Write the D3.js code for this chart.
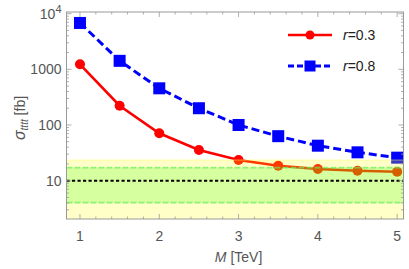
<!DOCTYPE html>
<html><head><meta charset="utf-8">
<script src="https://cdn.jsdelivr.net/npm/d3@7"></script>
<style>
body{margin:0;background:#fff;}
svg{display:block;font-family:"Liberation Sans",Arial,sans-serif;}
</style></head>
<body><svg id="c" width="409" height="269"></svg>
<script>
const masses = [1, 1.5, 2, 2.5, 3, 3.5, 4, 4.5, 5];
const sigmaR03 = [1230, 222, 71, 35.5, 23.5, 18.6, 16.2, 15.1, 14.5];
const sigmaR08 = [6800, 1420, 456, 200, 100, 63, 42.5, 32.3, 25.9];
const seriesNames = ["r=0.3", "r=0.8"];
const xTicks = [1, 2, 3, 4, 5];
const yTicks = [10, 100, 1000, 10000];
const yTickLabels = ["10", "100", "1000", "10^4"];
const limitCentral = 10;
const band1 = [4.03, 17.1];
const band2 = [1, 23.5];

const svg = d3.select("#c");
const L = 66.5, R = 403.5, T = 12, B = 219;
const x = d3.scaleLinear().domain([0.83, 5.08]).range([L, R]);
const y = d3.scaleLog().domain([2.05, 10700]).range([B, T]);
const frameCol = "#9a9a9a";
const textCol = "#555";

const plot = svg.append("g");
plot.append("defs").append("clipPath").attr("id","clip")
  .append("rect").attr("x",L).attr("y",T).attr("width",R-L).attr("height",B-T);
const g = plot.append("g").attr("clip-path","url(#clip)");

const line = d3.line().x((d,i)=>x(masses[i])).y(d=>y(d));

// red series
g.append("path").datum(sigmaR03).attr("d", line)
  .attr("fill","none").attr("stroke","#ff0000").attr("stroke-width",2.6);
g.selectAll("circle.r").data(sigmaR03).enter().append("circle")
  .attr("cx",(d,i)=>x(masses[i])).attr("cy",d=>y(d)).attr("r",5).attr("fill","#ff0000");
// blue series
g.append("path").datum(sigmaR08).attr("d", line)
  .attr("fill","none").attr("stroke","#0000ff").attr("stroke-width",3)
  .attr("stroke-dasharray","8,4");
g.selectAll("rect.b").data(sigmaR08).enter().append("rect")
  .attr("x",(d,i)=>x(masses[i])-6).attr("y",d=>y(d)-6).attr("width",12).attr("height",12)
  .attr("fill","#0000ff");

// bands on top (translucent)
g.append("rect").attr("x",L).attr("width",R-L)
  .attr("y",y(band2[1])).attr("height",y(band2[0])-y(band2[1]))
  .attr("fill","#ffff00").attr("fill-opacity",0.22);
g.append("line").attr("x1",L).attr("x2",R).attr("y1",y(band2[1])).attr("y2",y(band2[1]))
  .attr("stroke","#ffff66").attr("stroke-width",1.2).attr("stroke-opacity",0.5);
g.append("rect").attr("x",L).attr("width",R-L)
  .attr("y",y(band1[1])).attr("height",y(band1[0])-y(band1[1]))
  .attr("fill","#33ff00").attr("fill-opacity",0.2);
[band1[0], band1[1]].forEach(v=>{
  g.append("line").attr("x1",L).attr("x2",R).attr("y1",y(v)).attr("y2",y(v))
    .attr("stroke","#66ee55").attr("stroke-width",1.8).attr("stroke-opacity",0.7)
    .attr("stroke-dasharray","6,2");
});
g.append("line").attr("x1",L).attr("x2",R).attr("y1",y(limitCentral)).attr("y2",y(limitCentral))
  .attr("stroke","#000").attr("stroke-width",2).attr("stroke-dasharray","3.2,2.3");

// frame
plot.append("rect").attr("x",L).attr("y",T).attr("width",R-L).attr("height",B-T)
  .attr("fill","none").attr("stroke",frameCol).attr("stroke-width",1);

// ticks
const xMinorAll = [];
for (let v=0.8; v<=5.1; v+=0.2){ const r=+v.toFixed(2); if(r>0.83 && r<5.08 && Math.abs(r-Math.round(r))>0.01) xMinorAll.push(r);}
const tickG = plot.append("g").attr("stroke",frameCol).attr("stroke-width",0.8);
xTicks.forEach(v=>{
  tickG.append("line").attr("x1",x(v)).attr("x2",x(v)).attr("y1",B).attr("y2",B-5);
  tickG.append("line").attr("x1",x(v)).attr("x2",x(v)).attr("y1",T).attr("y2",T+5);
});
xMinorAll.forEach(v=>{
  tickG.append("line").attr("x1",x(v)).attr("x2",x(v)).attr("y1",B).attr("y2",B-2.5);
  tickG.append("line").attr("x1",x(v)).attr("x2",x(v)).attr("y1",T).attr("y2",T+2.5);
});
const yMinor = [];
[1,10,100,1000,10000].forEach(dec=>{ for(let k=2;k<=9;k++){ const v=dec*k; if(v>2.05 && v<10700) yMinor.push(v);} });
yTicks.forEach(v=>{
  tickG.append("line").attr("x1",L).attr("x2",L+5).attr("y1",y(v)).attr("y2",y(v));
  tickG.append("line").attr("x1",R).attr("x2",R-5).attr("y1",y(v)).attr("y2",y(v));
});
yMinor.forEach(v=>{
  tickG.append("line").attr("x1",L).attr("x2",L+2.5).attr("y1",y(v)).attr("y2",y(v));
  tickG.append("line").attr("x1",R).attr("x2",R-2.5).attr("y1",y(v)).attr("y2",y(v));
});

// tick labels
const lab = svg.append("g").attr("fill",textCol).attr("font-size",14);
xTicks.forEach(v=>{
  lab.append("text").attr("x",x(v)).attr("y",B+22).attr("text-anchor","middle").text(v);
});
yTicks.forEach((v,i)=>{
  const s = yTickLabels[i];
  if (s.includes("^")) {
    const [b,e] = s.split("^");
    const t = lab.append("text").attr("x",L-5).attr("y",y(v)+5).attr("text-anchor","end");
    t.append("tspan").text(b);
    t.append("tspan").attr("dy",-6).attr("font-size",11).text(e);
  } else {
    lab.append("text").attr("x",L-5).attr("y",y(v)+5).attr("text-anchor","end").text(s);
  }
});

// axis labels
const xl = lab.append("text").attr("x",x(3)).attr("y",262).attr("text-anchor","middle");
xl.append("tspan").attr("font-style","italic").text("M");
xl.append("tspan").text(" [TeV]");
const yl = lab.append("text").attr("transform","translate(25,118) rotate(-90)").attr("text-anchor","middle");
yl.append("tspan").attr("font-style","italic").attr("font-size",16).text("σ");
yl.append("tspan").attr("font-style","italic").attr("font-size",10).attr("dy",3).text("tttt");
yl.append("tspan").attr("dy",-3).text(" [fb]");

// legend
const lg = svg.append("g");
const legY = [35, 66];
const lx1 = 288, lx2 = 332;
lg.append("line").attr("x1",lx1).attr("x2",lx2).attr("y1",legY[0]).attr("y2",legY[0])
  .attr("stroke","#ff0000").attr("stroke-width",2.6);
lg.append("circle").attr("cx",(lx1+lx2)/2).attr("cy",legY[0]).attr("r",4.5).attr("fill","#ff0000");
lg.append("line").attr("x1",lx1).attr("x2",lx2).attr("y1",legY[1]).attr("y2",legY[1])
  .attr("stroke","#0000ff").attr("stroke-width",3).attr("stroke-dasharray","6,3");
lg.append("rect").attr("x",(lx1+lx2)/2-5.5).attr("y",legY[1]-5.5).attr("width",11).attr("height",11).attr("fill","#0000ff");
seriesNames.forEach((n,i)=>{
  const [a,b] = n.split("=");
  const t = lg.append("text").attr("x",343).attr("y",legY[i]+5).attr("font-size",14).attr("fill","#222");
  t.append("tspan").attr("font-style","italic").text(a);
  t.append("tspan").text("="+b);
});
</script></body></html>
